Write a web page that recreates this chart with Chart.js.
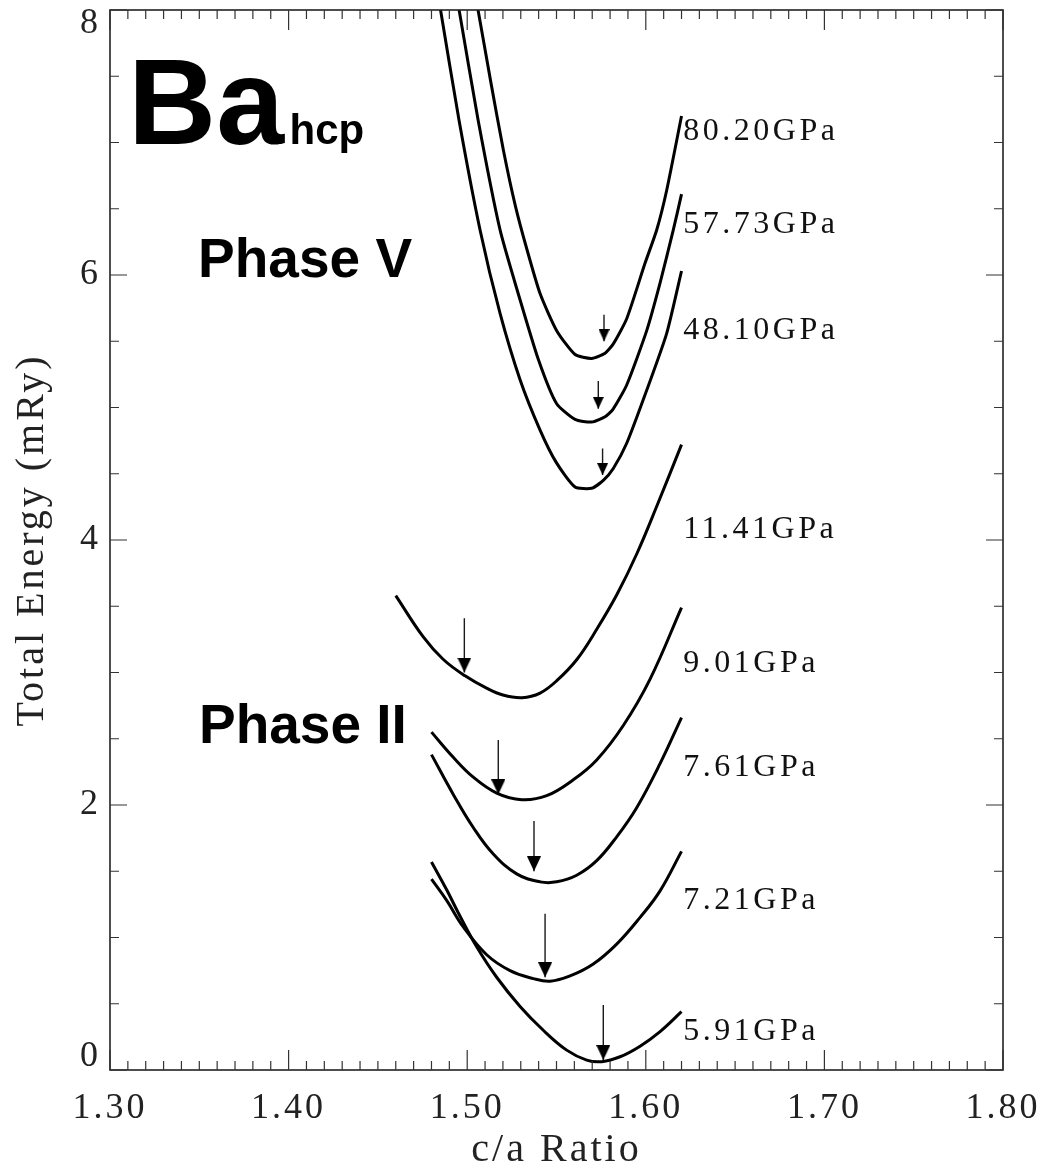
<!DOCTYPE html>
<html>
<head>
<meta charset="utf-8">
<title>Ba hcp - total energy vs c/a</title>
<script src="https://cdn.jsdelivr.net/npm/chart.js@4.4.1/dist/chart.umd.min.js"></script>
<style>
    html, body { margin: 0; padding: 0; background: #fff; }
    #wrap { width: 1049px; height: 1174px; }
</style>
</head>
<body>
<div id="wrap"><canvas id="chartca" width="1049" height="1174"></canvas></div>
<script>
// 곡선 이름 (압력)
var pressures = ['80.20GPa', '57.73GPa', '48.10GPa', '11.41GPa', '9.01GPa', '7.61GPa', '7.21GPa', '5.91GPa'];

// c/a ratio, total energy (mRy) - Phase V
var ratio8020 = [1.500, 1.5062, 1.5133, 1.5203, 1.5270, 1.5333, 1.5408, 1.5501, 1.5604, 1.5697, 1.5772, 1.5818, 1.5893, 1.5996, 1.6061, 1.6117, 1.620];
var energy8020 = [8.45, 7.99, 7.45, 6.94, 6.52, 6.20, 5.86, 5.58, 5.40, 5.37, 5.41, 5.48, 5.67, 6.09, 6.34, 6.64, 7.20];

var ratio5773 = [1.4893, 1.4956, 1.5061, 1.5184, 1.5290, 1.5399, 1.5500, 1.5604, 1.5697, 1.5772, 1.5818, 1.5893, 1.6005, 1.6080, 1.6154, 1.620];
var energy5773 = [8.45, 7.99, 7.17, 6.34, 5.84, 5.36, 5.03, 4.91, 4.89, 4.93, 4.99, 5.17, 5.58, 5.94, 6.34, 6.61];

var ratio4810 = [1.4793, 1.4852, 1.4954, 1.5072, 1.5184, 1.5296, 1.5408, 1.5501, 1.5604, 1.5697, 1.5762, 1.5818, 1.5893, 1.6005, 1.6117, 1.620];
var energy4810 = [8.45, 7.99, 7.17, 6.34, 5.71, 5.21, 4.83, 4.58, 4.40, 4.39, 4.45, 4.54, 4.73, 5.13, 5.56, 6.03];

// Phase II
var ratio1141 = [1.460, 1.4753, 1.4865, 1.4988, 1.5111, 1.520, 1.5307, 1.5408, 1.5503, 1.5615, 1.5727, 1.5839, 1.5951, 1.6063, 1.620];
var energy1141 = [3.58, 3.27, 3.10, 2.975, 2.88, 2.83, 2.81, 2.845, 2.94, 3.10, 3.33, 3.59, 3.90, 4.26, 4.72];

var ratio901 = [1.480, 1.4922, 1.5034, 1.5165, 1.5305, 1.5445, 1.5594, 1.5725, 1.5874, 1.6024, 1.620];
var energy901 = [2.55, 2.36, 2.21, 2.09, 2.04, 2.07, 2.19, 2.34, 2.60, 2.95, 3.49];

var ratio761 = [1.480, 1.4922, 1.5034, 1.5146, 1.5277, 1.5408, 1.5501, 1.5613, 1.5725, 1.5837, 1.5949, 1.6079, 1.620];
var energy761 = [2.38, 2.08, 1.83, 1.63, 1.48, 1.42, 1.42, 1.47, 1.58, 1.76, 1.98, 2.31, 2.66];

var ratio721 = [1.480, 1.4885, 1.4978, 1.5109, 1.524, 1.537, 1.5464, 1.5576, 1.5706, 1.5837, 1.5967, 1.6079, 1.620];
var energy721 = [1.44, 1.28, 1.08, 0.87, 0.75, 0.69, 0.67, 0.71, 0.80, 0.95, 1.15, 1.35, 1.65];

var ratio591 = [1.480, 1.4885, 1.496, 1.5053, 1.5165, 1.5296, 1.5426, 1.5557, 1.5669, 1.5753, 1.5856, 1.5968, 1.608, 1.620];
var energy591 = [1.57, 1.36, 1.16, 0.93, 0.70, 0.48, 0.30, 0.15, 0.075, 0.063, 0.10, 0.18, 0.29, 0.44];

// 최소점 화살표: c/a, 시작 energy, 끝 energy (pressures 순서)
var arrowRatio = [1.5766, 1.5734, 1.5758, 1.4984, 1.5174, 1.5374, 1.5436, 1.5762];
var arrowTop = [5.70, 5.20, 4.69, 3.41, 2.49, 1.88, 1.18, 0.49];
var arrowTip = [5.50, 4.99, 4.49, 3.00, 2.08, 1.50, 0.70, 0.075];

// 라벨 위치 (energy)
var labelEnergy = [7.08, 6.38, 5.58, 4.08, 3.07, 2.28, 1.28, 0.29];

// 축 눈금
var xTicks = [1.30, 1.40, 1.50, 1.60, 1.70, 1.80];
var yTicks = [0, 2, 4, 6, 8];

var curveRatios = [ratio8020, ratio5773, ratio4810, ratio1141, ratio901, ratio761, ratio721, ratio591];
var curveEnergies = [energy8020, energy5773, energy4810, energy1141, energy901, energy761, energy721, energy591];

var serif = '"Liberation Serif", "Times New Roman", serif';
var sans = '"Liberation Sans", Arial, Helvetica, sans-serif';
var labelRatio = 1.621;

// 큰 글씨
var bigTexts = [
    { text: 'Ba', ratio: 1.3101, energy: 6.99, font: 'bold 122px ' + sans },
    { text: 'hcp', ratio: 1.4005, energy: 6.99, font: 'bold 42px ' + sans },
    { text: 'Phase V', ratio: 1.3493, energy: 5.985, font: 'bold 55px ' + sans },
    { text: 'Phase II', ratio: 1.3498, energy: 2.468, font: 'bold 55px ' + sans }
];

function makeHead(w, h) {
    // 캔버스 중앙이 화살표 끝이 되도록 위쪽 절반에 삼각형
    var c = document.createElement('canvas');
    c.width = w;
    c.height = h * 2;
    var g = c.getContext('2d');
    g.fillStyle = '#000';
    g.beginPath();
    g.moveTo(0, 0);
    g.lineTo(w, 0);
    g.lineTo(w / 2, h);
    g.closePath();
    g.fill();
    return c;
}

var bigHead = makeHead(14, 15);
var smallHead = makeHead(11, 12);

var datasets = [];
for (var i = 0; i < pressures.length; i++) {
    var pts = [];
    for (var k = 0; k < curveRatios[i].length; k++) {
        pts.push({ x: curveRatios[i][k], y: curveEnergies[i][k] });
    }
    datasets.push({
        label: pressures[i],
        data: pts,
        borderColor: '#000',
        borderWidth: 3,
        pointRadius: 0,
        fill: false,
        tension: i < 3 ? 0.2 : 0.4
    });
}
for (var i = 0; i < pressures.length; i++) {
    datasets.push({
        label: pressures[i] + ' min',
        data: [{ x: arrowRatio[i], y: arrowTop[i] }, { x: arrowRatio[i], y: arrowTip[i] }],
        borderColor: '#1a1a1a',
        borderWidth: 1.4,
        pointRadius: [0, 3],
        pointStyle: i < 3 ? smallHead : bigHead,
        fill: false
    });
}

var framePlugin = {
    id: 'frame',
    beforeDraw: function (chart) {
        chart.ctx.letterSpacing = '3px';
    },
    afterDatasetsDraw: function (chart) {
        var ctx = chart.ctx;
        var a = chart.chartArea;
        var xs = chart.scales.x;
        var ys = chart.scales.y;
        ctx.save();
        ctx.strokeStyle = '#222';
        ctx.lineWidth = 1.6;
        ctx.strokeRect(a.left, a.top, a.right - a.left, a.bottom - a.top);

        // 안쪽 눈금 (네 변)
        ctx.lineWidth = 1.2;
        ctx.strokeStyle = '#333';
        ctx.beginPath();
        for (var i = 0; i <= 50; i++) {
            var px = xs.getPixelForValue(xs.min + i * 0.01);
            var len = i % 10 === 0 ? 20 : 9;
            ctx.moveTo(px, a.bottom);
            ctx.lineTo(px, a.bottom - len);
            ctx.moveTo(px, a.top);
            ctx.lineTo(px, a.top + len);
        }
        for (var j = 0; j <= 16; j++) {
            var py = ys.getPixelForValue(ys.min + j * 0.5);
            var len2 = j % 4 === 0 ? 17 : 9;
            ctx.moveTo(a.left, py);
            ctx.lineTo(a.left + len2, py);
            ctx.moveTo(a.right, py);
            ctx.lineTo(a.right - len2, py);
        }
        ctx.stroke();

        // y축 숫자 (끝 숫자는 안쪽으로)
        ctx.fillStyle = '#222';
        ctx.letterSpacing = '0px';
        ctx.font = '36px ' + serif;
        ctx.textAlign = 'right';
        ctx.textBaseline = 'middle';
        for (var t = 0; t < yTicks.length; t++) {
            var ty = ys.getPixelForValue(yTicks[t]);
            ty = Math.max(a.top + 14, Math.min(a.bottom - 13, ty));
            ctx.fillText(String(yTicks[t]), a.left - 12, ty);
        }

        // 압력 라벨
        ctx.fillStyle = '#111';
        ctx.letterSpacing = '3.5px';
        ctx.font = '32px ' + serif;
        ctx.textAlign = 'left';
        for (var p = 0; p < pressures.length; p++) {
            ctx.fillText(pressures[p], xs.getPixelForValue(labelRatio), ys.getPixelForValue(labelEnergy[p]));
        }

        // Ba hcp, Phase V, Phase II
        ctx.fillStyle = '#000';
        ctx.letterSpacing = '0px';
        ctx.textBaseline = 'alphabetic';
        for (var b = 0; b < bigTexts.length; b++) {
            ctx.font = bigTexts[b].font;
            ctx.fillText(bigTexts[b].text, xs.getPixelForValue(bigTexts[b].ratio), ys.getPixelForValue(bigTexts[b].energy));
        }
        ctx.restore();
    }
};

var chartArea = document.getElementById('chartca').getContext('2d');

var chartca = new Chart(chartArea, {
    type: 'line',
    data: { datasets: datasets },
    options: {
        responsive: false,
        animation: false,
        layout: { padding: { top: 10, right: 46, left: 0, bottom: 0 } },
        plugins: {
            legend: { display: false },
            tooltip: { enabled: false }
        },
        scales: {
            x: {
                type: 'linear',
                min: 1.3,
                max: 1.8,
                grid: { display: false, drawTicks: false },
                border: { display: false },
                afterBuildTicks: function (scale) {
                    scale.ticks = xTicks.map(function (v) { return { value: v }; });
                },
                afterFit: function (scale) {
                    scale.height = 104;
                    scale.paddingLeft = 0;
                    scale.paddingRight = 0;
                },
                ticks: {
                    callback: function (v) { return Number(v).toFixed(2); },
                    font: { family: serif, size: 36 },
                    color: '#222',
                    padding: 17,
                    maxRotation: 0,
                    autoSkip: false
                },
                title: {
                    display: true,
                    text: 'c/a Ratio',
                    font: { family: serif, size: 40 },
                    color: '#222',
                    padding: { top: 0, bottom: 0 }
                }
            },
            y: {
                type: 'linear',
                min: 0,
                max: 8,
                grid: { display: false, drawTicks: false },
                border: { display: false },
                afterBuildTicks: function (scale) {
                    scale.ticks = yTicks.map(function (v) { return { value: v }; });
                },
                afterFit: function (scale) {
                    scale.width = 110;
                    scale.paddingTop = 0;
                    scale.paddingBottom = 0;
                },
                ticks: { display: false },
                title: {
                    display: true,
                    text: 'Total Energy (mRy)',
                    font: { family: serif, size: 40 },
                    color: '#222',
                    padding: { top: 8, bottom: 0 }
                }
            }
        }
    },
    plugins: [framePlugin]
});
</script>
</body>
</html>
